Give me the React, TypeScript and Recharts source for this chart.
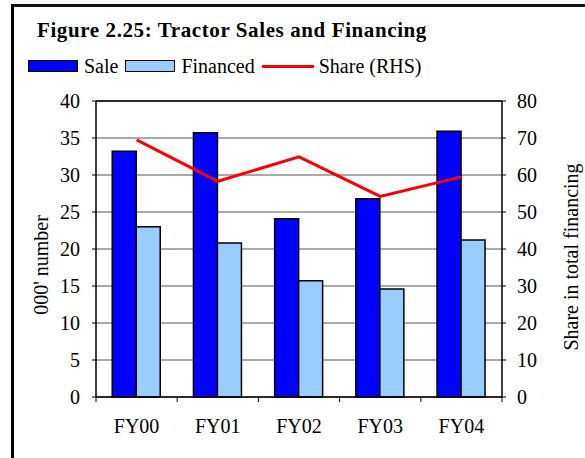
import React from 'react';
import { ComposedChart, Bar, Line, XAxis, YAxis, CartesianGrid, Legend, ReferenceLine } from 'recharts';

const categories = ['FY00', 'FY01', 'FY02', 'FY03', 'FY04'];
const sale = [33.2, 35.7, 24.1, 26.8, 35.9];
const financed = [23.0, 20.8, 15.7, 14.6, 21.2];
const share = [69.5, 58.3, 64.9, 54.2, 59.5];
const leftTicks = [0, 5, 10, 15, 20, 25, 30, 35, 40];
const rightTicks = [0, 10, 20, 30, 40, 50, 60, 70, 80];
const seriesNames = ['Sale', 'Financed', 'Share (RHS)'];

const data = categories.map((name, i) => ({ name, sale: sale[i], financed: financed[i], share: share[i] }));

const FONT = "'Liberation Serif', 'Times New Roman', serif";
const W = 585;
const H = 458;
const X_AXIS_H = 30;
const MARGIN = { top: 101, right: 23, bottom: 61 - X_AXIS_H, left: 36 };
const AXIS_W = 60;
const PLOT_W = W - MARGIN.left - MARGIN.right - 2 * AXIS_W;
const BAND = PLOT_W / categories.length;

const XTick = (props: any) => {
  const { x, y, payload, index } = props;
  const axisY = y - 22;
  return (
    <g>
      <text x={x} y={y} dy="0.71em" textAnchor="middle" fill="#000" fontSize={20} fontFamily={FONT}>
        {payload.value}
      </text>
      <line x1={x - BAND / 2} x2={x - BAND / 2} y1={axisY} y2={axisY + 5} stroke="#000" strokeWidth={1} />
      {index === categories.length - 1 ? (
        <line x1={x + BAND / 2} x2={x + BAND / 2} y1={axisY} y2={axisY + 5} stroke="#000" strokeWidth={1} />
      ) : null}
    </g>
  );
};

const LeftLabel = (props: any) => {
  const vb = props.viewBox;
  const cx = vb.x + 5;
  const cy = vb.y + vb.height / 2 + 16;
  return (
    <text x={cx} y={cy} transform={`rotate(-90, ${cx}, ${cy})`} textAnchor="middle" dominantBaseline="central" fill="#000" fontSize={20} fontFamily={FONT}>
      000' number
    </text>
  );
};

const RightLabel = (props: any) => {
  const vb = props.viewBox;
  const cx = vb.x + 69;
  const cy = vb.y + vb.height / 2 + 8;
  return (
    <text x={cx} y={cy} transform={`rotate(-90, ${cx}, ${cy})`} textAnchor="middle" dominantBaseline="central" fill="#000" fontSize={20} fontFamily={FONT}>
      Share in total financing
    </text>
  );
};

const LegendContent = (props: any) => {
  const payload = [...(props.payload || [])].sort(
    (a: any, b: any) => seriesNames.indexOf(a.value) - seriesNames.indexOf(b.value)
  );
  const items = payload.map((p: any, i: number) => {
    const isLine = p.type === 'line';
    const icon = isLine ? (
      <span style={{ display: 'inline-block', width: 52, height: 3, background: '#FF0000', marginRight: 5 }} />
    ) : (
      <span style={{ display: 'inline-block', width: 48, height: 10, background: p.color, border: '1.5px solid #000', marginRight: 6 }} />
    );
    return (
      <span key={i} style={{ display: 'inline-flex', alignItems: 'center', marginRight: 7 }}>
        {icon}
        <span style={{ fontSize: 20, fontFamily: FONT, color: '#000', lineHeight: '20px' }}>{p.value}</span>
      </span>
    );
  });
  return <div style={{ display: 'flex', alignItems: 'center', whiteSpace: 'nowrap' }}>{items}</div>;
};

export default function App() {
  return (
    <div style={{ position: 'absolute', left: 0, top: 0, width: W, height: H, overflow: 'hidden', background: '#fff' }}>
      <div style={{ position: 'absolute', left: 11, top: 4, width: 700, height: 700, borderLeft: '3px solid #000', borderTop: '3px solid #111' }} />
      <div style={{ position: 'absolute', left: 37, top: 20, fontFamily: FONT, fontWeight: 'bold', fontSize: 21, lineHeight: '21px', letterSpacing: 0.6, color: '#000', whiteSpace: 'nowrap' }}>
        Figure 2.25: Tractor Sales and Financing
      </div>
      <div style={{ position: 'absolute', left: 0, top: 0 }}>
        <ComposedChart width={W} height={H} data={data} margin={MARGIN} barCategoryGap="20%" barGap={0}>
          <CartesianGrid vertical={false} yAxisId="left" stroke="#555" strokeWidth={1} />
          <XAxis
            dataKey="name"
            height={X_AXIS_H}
            axisLine={{ stroke: '#000', strokeWidth: 1.5 }}
            tickLine={false}
            tickSize={5}
            tickMargin={17}
            tick={<XTick />}
            interval={0}
          />
          <YAxis
            yAxisId="left"
            width={AXIS_W}
            domain={[0, 40]}
            ticks={leftTicks}
            interval={0}
            axisLine={{ stroke: '#000', strokeWidth: 1.5 }}
            tickLine={{ stroke: '#000' }}
            tickSize={4}
            tickMargin={12}
            tick={{ fill: '#000', fontSize: 20, fontFamily: FONT }}
            label={{ content: <LeftLabel /> }}
          />
          <YAxis
            yAxisId="right"
            orientation="right"
            width={AXIS_W}
            domain={[0, 80]}
            ticks={rightTicks}
            interval={0}
            axisLine={{ stroke: '#000', strokeWidth: 1.5 }}
            tickLine={{ stroke: '#000' }}
            tickSize={4}
            tickMargin={11}
            tick={{ fill: '#000', fontSize: 20, fontFamily: FONT, textAnchor: 'start' }}
            label={{ content: <RightLabel /> }}
          />
          <ReferenceLine yAxisId="left" y={40} stroke="#000" strokeWidth={1.5} />
          <Legend
            layout="horizontal"
            verticalAlign="middle"
            align="center"
            content={<LegendContent />}
            wrapperStyle={{ position: 'absolute', top: 56, left: 28, width: 500 }}
          />
          <Bar yAxisId="left" dataKey="sale" name="Sale" fill="#0000FF" stroke="#000" strokeWidth={1.5} isAnimationActive={false} legendType="rect" />
          <Bar yAxisId="left" dataKey="financed" name="Financed" fill="#99CCFF" stroke="#000" strokeWidth={1.5} isAnimationActive={false} legendType="rect" />
          <Line yAxisId="right" dataKey="share" name="Share (RHS)" stroke="#FF0000" strokeWidth={3} dot={false} activeDot={false} isAnimationActive={false} legendType="line" />
        </ComposedChart>
      </div>
    </div>
  );
}
